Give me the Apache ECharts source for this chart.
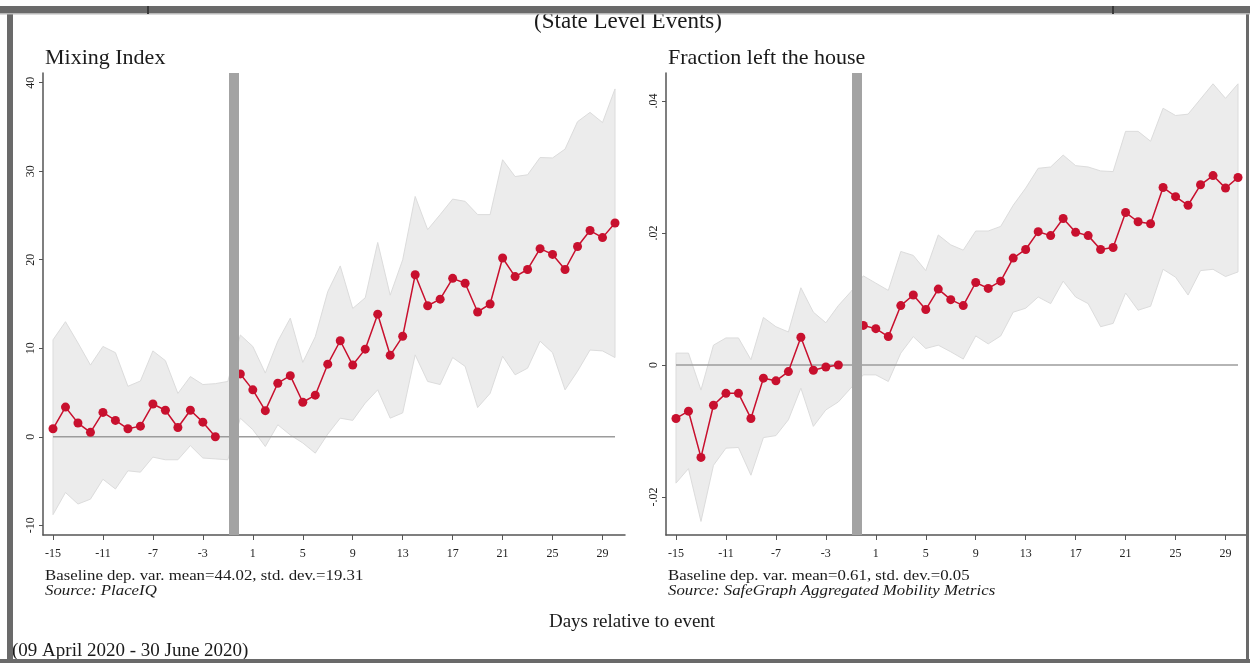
<!DOCTYPE html>
<html>
<head>
<meta charset="utf-8">
<script src="https://cdn.jsdelivr.net/npm/echarts@6/dist/echarts.min.js"></script>
<style>
html,body{margin:0;padding:0;background:#fff;}
#chart{width:1250px;height:663px;}
</style>
</head>
<body>
<div id="chart"></div>
<script>
// ---------- DATA ----------
const days = [-15,-14,-13,-12,-11,-10,-9,-8,-7,-6,-5,-4,-3,-2,-1,0,1,2,3,4,5,6,7,8,9,10,11,12,13,14,15,16,17,18,19,20,21,22,23,24,25,26,27,28,29,30];
const xTickValues = [-15,-11,-7,-3,1,5,9,13,17,21,25,29];
const mixYTicks = [-10,0,10,20,30,40];
const fracYTicks = [-0.02,0,0.02,0.04];
const eventDay = -0.5;

const mixMean = [0.9,3.35,1.55,0.5,2.75,1.85,0.9,1.2,3.7,3.0,1.05,3.0,1.65,0,null,7.1,5.3,2.95,6.05,6.9,3.9,4.7,8.2,10.85,8.1,9.9,13.85,9.2,11.35,18.3,14.8,15.55,17.9,17.35,14.1,15.0,20.2,18.1,18.9,21.25,20.6,18.9,21.5,23.3,22.5,24.15];
const mixUpper = [10.95,13.0,10.6,8.1,10.2,9.5,5.7,6.3,9.7,8.6,4.9,6.8,5.9,6.0,6.25,11.5,10.2,7.2,10.8,13.4,8.4,11.3,16.4,19.3,14.5,15.7,21.95,16.0,20.0,27.15,23.4,25.1,26.85,26.6,25.1,25.1,31.3,29.4,29.6,31.55,31.5,32.5,35.6,36.65,35.5,39.3];
const mixLower = [-8.8,-6.3,-7.6,-7.05,-4.8,-5.9,-3.85,-4.0,-2.3,-2.6,-2.6,-1.0,-2.4,-2.5,-2.6,2.1,0.8,-1.1,1.35,0.2,-0.7,-1.85,0.3,2.1,1.85,3.8,5.3,2.1,2.7,9.25,6.25,5.9,8.95,7.95,3.3,4.9,9.1,7.0,7.75,10.8,9.5,5.3,7.4,9.8,9.7,8.95];

const fracMean = [-0.0081,-0.0070,-0.0140,-0.0061,-0.0043,-0.0043,-0.0081,-0.0020,-0.0024,-0.0010,0.0042,-0.0008,-0.0003,0,null,0.0060,0.0055,0.0043,0.0090,0.0106,0.0084,0.0115,0.0099,0.0090,0.0125,0.0116,0.0127,0.0162,0.0175,0.0202,0.0196,0.0222,0.0201,0.0196,0.0175,0.0178,0.0231,0.0217,0.0214,0.0269,0.0255,0.0242,0.0273,0.0287,0.0268,0.0284];
const fracUpper = [0.0018,0.0018,-0.0038,0.0030,0.0041,0.0041,0.0008,0.0072,0.0058,0.0050,0.0117,0.0080,0.0064,0.0090,0.0111,0.0135,0.0124,0.0113,0.0172,0.0166,0.0143,0.0197,0.0182,0.0174,0.0203,0.0203,0.0210,0.0242,0.0268,0.0298,0.0300,0.0318,0.0302,0.0300,0.0294,0.0293,0.0354,0.0354,0.0339,0.0389,0.0378,0.0380,0.0403,0.0426,0.0404,0.0426];
const fracLower = [-0.0179,-0.0157,-0.0237,-0.0152,-0.0126,-0.0125,-0.0167,-0.0110,-0.0107,-0.0083,-0.0035,-0.0093,-0.0068,-0.0056,-0.0035,-0.0015,-0.0015,-0.0025,0.0018,0.0043,0.0025,0.0030,0.0020,0.0009,0.0044,0.0032,0.0044,0.0080,0.0086,0.0103,0.0093,0.0127,0.0103,0.0093,0.0058,0.0063,0.0109,0.0083,0.0089,0.0145,0.0133,0.0106,0.0143,0.0145,0.0134,0.0141];

// ---------- STYLE ----------
const SERIF = '"Liberation Serif", "DejaVu Serif", serif';
const RED = '#c8102e';
const AXIS = '#555555';

function fracLabel(v){
  if (Math.abs(v) < 1e-12) return '0';
  const s = String(Math.abs(+v.toFixed(4))).replace(/^0\./,'.');
  return (v < 0 ? '-' : '') + s;
}

function xAxisCfg(idx){
  return {
    type:'value', gridIndex:idx, min:-15.8, max:30.8,
    axisLine:{show:true,onZero:false,lineStyle:{color:AXIS,width:1.5}},
    axisTick:{show:true,customValues:xTickValues,length:5,lineStyle:{color:AXIS,width:1}},
    axisLabel:{customValues:xTickValues,fontFamily:SERIF,fontSize:12,color:'#222',margin:13},
    splitLine:{show:false}
  };
}
function yAxisCfg(idx,min,max,ticks,fmt){
  return {
    type:'value', gridIndex:idx, min:min, max:max,
    axisLine:{show:true,onZero:false,lineStyle:{color:AXIS,width:1.5}},
    axisTick:{show:true,customValues:ticks,length:4,lineStyle:{color:AXIS,width:1}},
    axisLabel:{customValues:ticks,rotate:90,fontFamily:SERIF,fontSize:12,color:'#222',margin:6,formatter:fmt},
    splitLine:{show:false}
  };
}

function bandSeries(idx, upper, lower){
  return {
    type:'custom', xAxisIndex:idx, yAxisIndex:idx, silent:true, z:1,
    data:[[days[0], lower[0]]],
    renderItem:function(params, api){
      const pts = [];
      for (let i=0;i<days.length;i++) pts.push(api.coord([days[i], upper[i]]));
      for (let i=days.length-1;i>=0;i--) pts.push(api.coord([days[i], lower[i]]));
      return {type:'polygon', shape:{points:pts}, style:{fill:'#ececec', stroke:'#dcdcdc', lineWidth:1}};
    }
  };
}
function zeroSeries(idx){
  return {
    type:'line', xAxisIndex:idx, yAxisIndex:idx, silent:true, z:2,
    data:[[days[0],0],[days[days.length-1],0]],
    symbol:'none', lineStyle:{color:'#9c9c9c',width:1.5}
  };
}
function meanSeries(idx, vals){
  return {
    type:'line', xAxisIndex:idx, yAxisIndex:idx, silent:true, z:3,
    data: days.map((d,i)=>[d, vals[i] === null ? '-' : vals[i]]),
    connectNulls:false,
    symbol:'circle', symbolSize:9, showSymbol:true,
    itemStyle:{color:RED},
    lineStyle:{color:RED,width:1.5},
    markLine:{
      silent:true, symbol:['none','none'], label:{show:false},
      lineStyle:{color:'#a3a3a3',width:10,type:'solid'},
      data:[{xAxis:eventDay}]
    }
  };
}

function note(text, x, y, italic){
  return {type:'text', z:50, x:x, y:y, scaleX:1.2, originX:0, originY:0,
    style:{text:text, x:0, y:0, textAlign:'left', textVerticalAlign:'middle',
      font:(italic?'italic ':'')+'14px '+SERIF, fill:'#1a1a1a'}};
}

const chart = echarts.init(document.getElementById('chart'), null, {renderer:'canvas'});
chart.setOption({
  animation:false,
  backgroundColor:'#ffffff',
  grid:[
    {left:43, top:73, width:582, height:462},
    {left:666, top:73, width:582, height:462}
  ],
  xAxis:[xAxisCfg(0), xAxisCfg(1)],
  yAxis:[
    yAxisCfg(0,-11.1,41.1,mixYTicks,v=>String(v)),
    yAxisCfg(1,-0.02576,0.04424,fracYTicks,fracLabel)
  ],
  series:[
    bandSeries(0, mixUpper, mixLower), zeroSeries(0), meanSeries(0, mixMean),
    bandSeries(1, fracUpper, fracLower), zeroSeries(1), meanSeries(1, fracMean)
  ],
  graphic:[
    // frame
    {type:'rect', z:100, shape:{x:0,y:6,width:1250,height:8}, style:{fill:'#6a6a6a'}},
    {type:'rect', z:101, shape:{x:0,y:13,width:1250,height:1.5}, style:{fill:'#b8b8b8'}},
    {type:'rect', z:101, shape:{x:147,y:6,width:2,height:8}, style:{fill:'#3a3a3a'}},
    {type:'rect', z:101, shape:{x:1112,y:6,width:2,height:8}, style:{fill:'#3a3a3a'}},
    {type:'rect', z:100, shape:{x:7,y:6,width:6,height:657}, style:{fill:'#6a6a6a'}},
    {type:'rect', z:100, shape:{x:1246,y:6,width:3,height:657}, style:{fill:'#6a6a6a'}},
    {type:'rect', z:100, shape:{x:0,y:659,width:1250,height:4}, style:{fill:'#6a6a6a'}},
    // titles
    {type:'text', z:50, style:{text:'(State Level Events)', x:628, y:22, textAlign:'center', textVerticalAlign:'middle', font:'23px '+SERIF, fill:'#1a1a1a'}},
    {type:'text', z:50, style:{text:'Mixing Index', x:45, y:58, textAlign:'left', textVerticalAlign:'middle', font:'22px '+SERIF, fill:'#1a1a1a'}},
    {type:'text', z:50, style:{text:'Fraction left the house', x:668, y:58, textAlign:'left', textVerticalAlign:'middle', font:'22px '+SERIF, fill:'#1a1a1a'}},
    // notes
    note('Baseline dep. var. mean=44.02, std. dev.=19.31', 45, 576, false),
    note('Source: PlaceIQ', 45, 591, true),
    note('Baseline dep. var. mean=0.61, std. dev.=0.05', 668, 576, false),
    note('Source: SafeGraph Aggregated Mobility Metrics', 668, 591, true),
    {type:'text', z:50, style:{text:'Days relative to event', x:632, y:622, textAlign:'center', textVerticalAlign:'middle', font:'19px '+SERIF, fill:'#1a1a1a'}},
    {type:'text', z:50, style:{text:'(09 April 2020 - 30 June 2020)', x:12, y:651, textAlign:'left', textVerticalAlign:'middle', font:'19px '+SERIF, fill:'#1a1a1a'}}
  ]
});
</script>
</body>
</html>
